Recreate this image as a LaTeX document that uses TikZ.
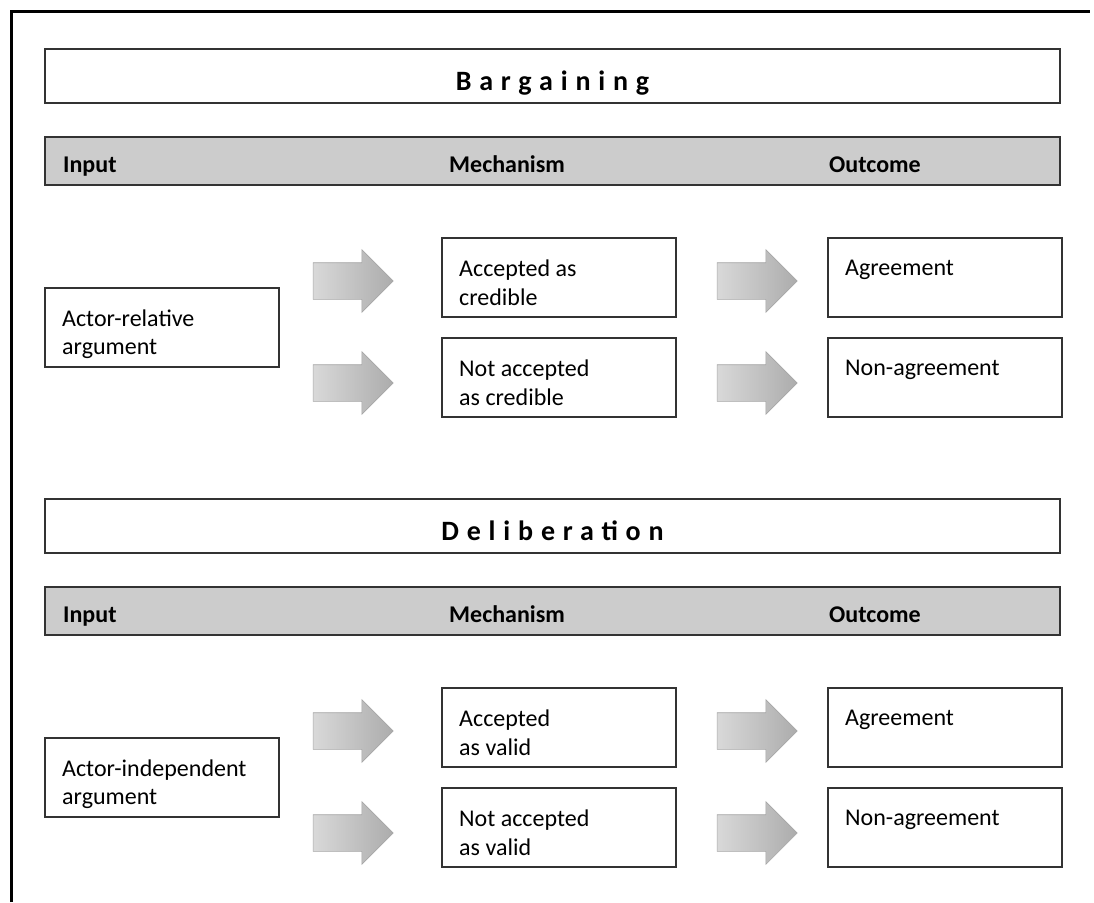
\documentclass[tikz,border=0pt]{standalone}
\usepackage{fontspec}
\setmainfont{Carlito}
\usepackage{tikz}
\usetikzlibrary{shapes.arrows,positioning}

\newcommand{\spacedtitle}[1]{{\fontsize{28}{32}\selectfont\bfseries\addfontfeature{LetterSpace=28}#1}}

\tikzset{
  every node/.append style={font=\fontsize{24}{28.5}\selectfont},
  titlebox/.style={draw=black!80, line width=2pt, minimum width=1015pt,
                   minimum height=54pt, inner sep=0pt,
                   text height=28pt, text depth=0pt},
  headbar/.style={draw=black!80, line width=2pt, fill=gray!40,
                  minimum width=1015pt, minimum height=48pt, inner sep=0pt},
  headtext/.style={anchor=base west, inner sep=0pt,
                   font=\fontsize{24}{28.5}\selectfont\bfseries},
  cbox/.style={draw=black!80, line width=2pt, minimum width=234pt,
               minimum height=79pt, inner sep=0pt},
  ctext/.style={anchor=north west, align=left, inner sep=0pt,
                xshift=18pt, yshift=-23pt},
  barrow/.style={single arrow, single arrow head extend=13pt,
                 minimum width=62pt, minimum height=80pt, inner sep=18pt,
                 left color=gray!30, right color=gray!65, draw=gray!70,
                 line width=0.6pt}
}

\begin{document}
\begin{tikzpicture}[x=1pt, y=-1pt]
\useasboundingbox (0,0) rectangle (1094,902);
% outer frame, open at the right and the bottom
\draw[line width=3pt] (11,902) -- (11,11.5) -- (1090,11.5);

% bargaining
\begin{scope}
\node[titlebox] (titleb) at (552.5,76) {\spacedtitle{Bargaining}};
\node[headbar] (headb) at (552.5,161) {};
\node[headtext] (inputb) at (63,172) {Input};
\node[headtext] (mechb) at (449,172) {Mechanism};
\node[headtext] (outb) at (829,172) {Outcome};
\node[cbox, label={[ctext]north west:{Actor-relative\\argument}}] (argb) at (162,327) {};
\node[cbox, label={[ctext]north west:{Accepted as\\credible}}] (accb) at (559,277.5) {};
\node[cbox, below=19pt of accb, label={[ctext]north west:{Not accepted\\as credible}}] (naccb) {};
\node[cbox, right=150pt of accb, label={[ctext]north west:{Agreement}}] (agrb) {};
\node[cbox, right=150pt of naccb, label={[ctext]north west:{Non-agreement}}] (nagrb) {};
\node[barrow] (arrowb1) at (344,281) {};
\node[barrow] (arrowb2) at (344,383) {};
\node[barrow] (arrowb3) at (748,281) {};
\node[barrow] (arrowb4) at (748,383) {};
\end{scope}

% deliberation
\begin{scope}[yshift=-450pt]
\node[titlebox] (titled) at (552.5,76) {\spacedtitle{Deliberation}};
\node[headbar] (headd) at (552.5,161) {};
\node[headtext] (inputd) at (63,172) {Input};
\node[headtext] (mechd) at (449,172) {Mechanism};
\node[headtext] (outd) at (829,172) {Outcome};
\node[cbox, label={[ctext]north west:{Actor-independent\\argument}}] (argd) at (162,327) {};
\node[cbox, label={[ctext]north west:{Accepted\\as valid}}] (accd) at (559,277.5) {};
\node[cbox, below=19pt of accd, label={[ctext]north west:{Not accepted\\as valid}}] (naccd) {};
\node[cbox, right=150pt of accd, label={[ctext]north west:{Agreement}}] (agrd) {};
\node[cbox, right=150pt of naccd, label={[ctext]north west:{Non-agreement}}] (nagrd) {};
\node[barrow] (arrowd1) at (344,281) {};
\node[barrow] (arrowd2) at (344,383) {};
\node[barrow] (arrowd3) at (748,281) {};
\node[barrow] (arrowd4) at (748,383) {};
\end{scope}
\end{tikzpicture}
\end{document}
